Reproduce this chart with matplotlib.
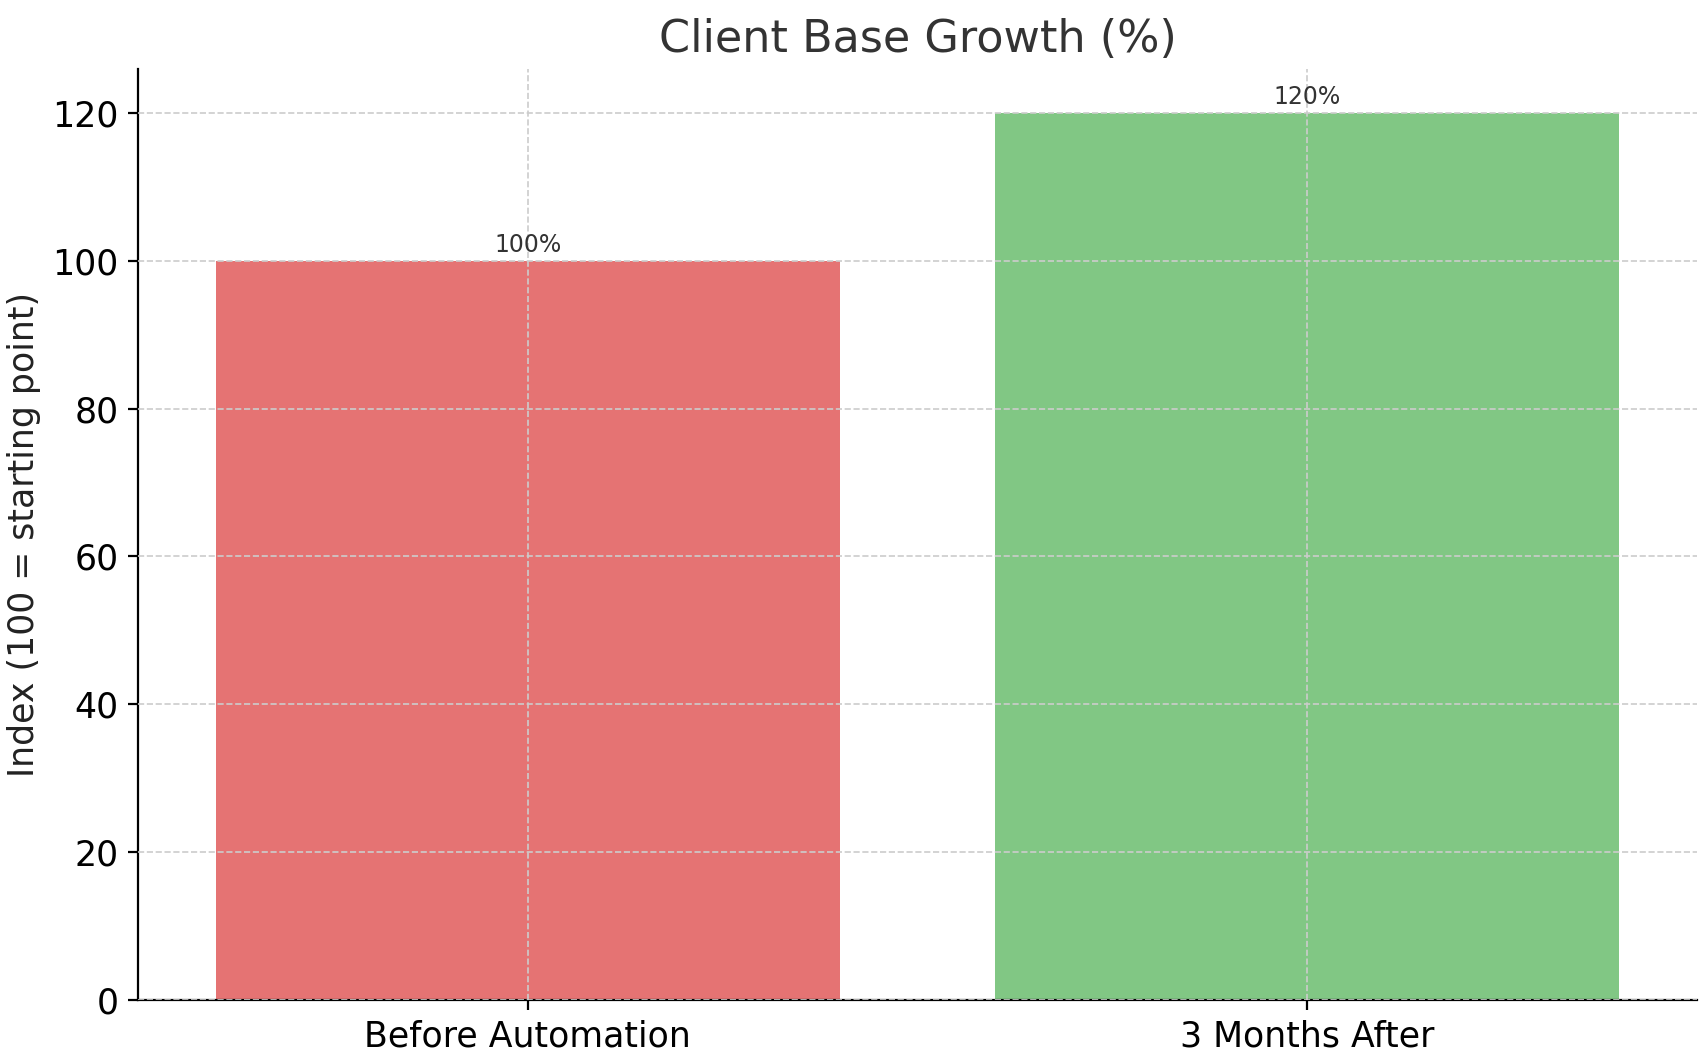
import matplotlib.pyplot as plt

categories = ["Before Automation", "3 Months After"]
values = [100, 120]
colors = ["#e57373", "#81c784"]

fig, ax = plt.subplots(figsize=(8.535, 5.285), dpi=200)
fig.subplots_adjust(left=0.081, right=0.994, top=0.935, bottom=0.054)

bars = ax.bar(categories, values, color=colors, width=0.8, zorder=1)
for b, v in zip(bars, values):
    ax.text(b.get_x() + b.get_width() / 2, v + 0.5, f"{v}%",
            ha="center", va="bottom", fontsize=8.5, color="#333333")

ax.set_ylim(0, 126)
ax.set_xlim(-0.5, 1.5)
ax.grid(True, linestyle="--", color="#cccccc", linewidth=0.6, zorder=2)
ax.set_axisbelow(False)
ax.set_title("Client Base Growth (%)", fontsize=16, color="#333333")
ax.set_ylabel("Index (100 = starting point)", fontsize=12.5, color="#222222")
ax.tick_params(labelsize=12.5)
for s in ["top", "right"]:
    ax.spines[s].set_visible(False)

fig.savefig("out.png")
